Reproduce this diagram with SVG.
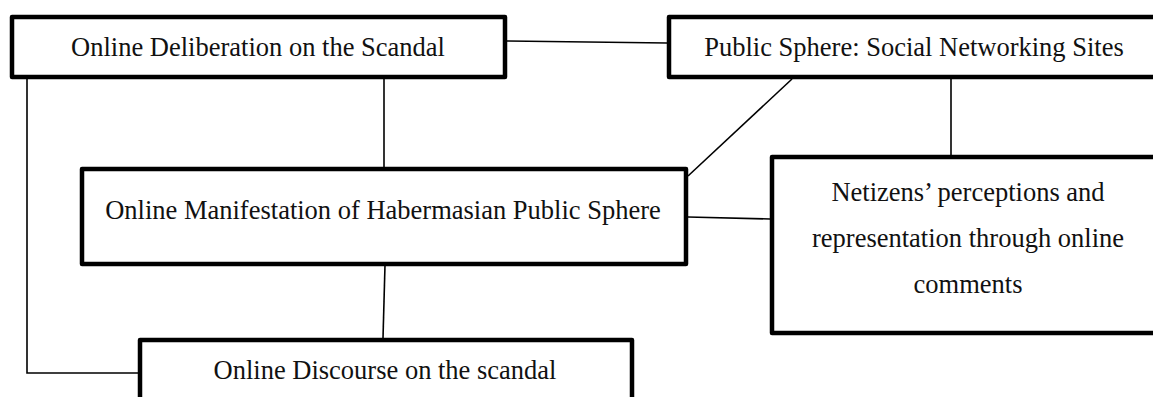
<svg xmlns="http://www.w3.org/2000/svg" width="1153" height="397" viewBox="0 0 1153 397">
<style>
.box{fill:#fff;stroke:#000;stroke-width:4.5;stroke-linejoin:round}
.lbl{font-family:"Liberation Serif","Times New Roman",serif;font-size:26.5px;fill:#111;text-anchor:middle}
.conn line,.conn polyline{stroke:#000;stroke-width:1.6;fill:none}
</style>
<rect width="1153" height="397" fill="#fff"/>
<g id="connectors" class="conn">
<line x1="507" y1="41" x2="667" y2="43"/>
<line x1="384" y1="79" x2="384" y2="167"/>
<polyline points="27,79 27,373 138,373"/>
<line x1="792" y1="79" x2="688" y2="176"/>
<line x1="951" y1="79" x2="951" y2="155"/>
<line x1="688" y1="217" x2="770" y2="219"/>
<line x1="385" y1="265" x2="383" y2="338"/>
</g>
<g id="node-deliberation">
<rect class="box" x="12" y="17" width="493" height="60"/>
<text class="lbl" x="258" y="56">Online Deliberation on the Scandal</text>
</g>
<g id="node-public-sphere">
<rect class="box" x="669" y="17" width="500" height="60"/>
<text class="lbl" x="914" y="56">Public Sphere: Social Networking Sites</text>
</g>
<g id="node-manifestation">
<rect class="box" x="82" y="169" width="604" height="95"/>
<text class="lbl" x="383" y="219">Online Manifestation of Habermasian Public Sphere</text>
</g>
<g id="node-netizens">
<rect class="box" x="772" y="157" width="400" height="176"/>
<text class="lbl" x="968" y="201">Netizens’ perceptions and</text>
<text class="lbl" x="968" y="247">representation through online</text>
<text class="lbl" x="968" y="293">comments</text>
</g>
<g id="node-discourse">
<rect class="box" x="140" y="340" width="492" height="80"/>
<text class="lbl" x="385" y="379">Online Discourse on the scandal</text>
</g>
</svg>
